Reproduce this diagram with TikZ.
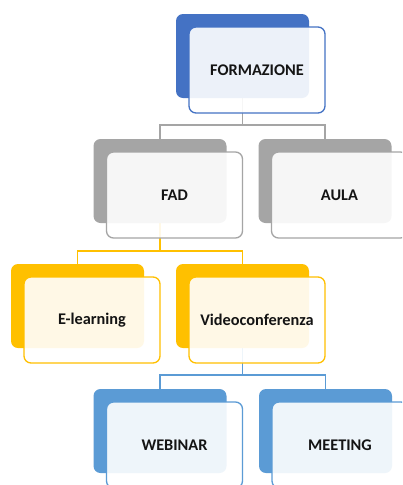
\documentclass[tikz,border=0pt]{standalone}
\usepackage{fontspec}
\setmainfont{Carlito}
\definecolor{cblue}{HTML}{4472C4}
\definecolor{cgray}{HTML}{A5A5A5}
\definecolor{cyel}{HTML}{FFC000}
\definecolor{clblue}{HTML}{5B9BD5}
\begin{document}
\begin{tikzpicture}[x=1pt,y=-1pt,
  backbox/.style={rectangle, rounded corners=7pt, minimum width=133pt, minimum height=84pt, inner sep=0pt, draw=none},
  frontbox/.style={rectangle, rounded corners=7pt, minimum width=136pt, minimum height=86pt, inner sep=0pt, line width=1.3pt, fill=white, fill opacity=0.9, text opacity=1, font=\fontsize{16.3}{19}\selectfont\bfseries, text=black!92},
  link/.style={line width=1.3pt}]
\useasboundingbox (0,0) rectangle (402,485);
\clip (0,0) rectangle (402,485);
\fill[white] (0,0) rectangle (402,485);

% junction coordinates
\coordinate (j1) at (242.5,125);
\coordinate (j2) at (160,251);
\coordinate (j3) at (242.5,375);

% back box positions
\coordinate (pF) at (242.5,56);
\coordinate (pFAD) at (160,181);
\coordinate (pAULA) at (325,181);
\coordinate (pEL) at (77.5,306);
\coordinate (pVC) at (242.5,306);
\coordinate (pWB) at (160,431);
\coordinate (pMT) at (325.5,431);

% connectors (under the boxes)
\draw[link, cgray] (pF) -- (j1) -| (pFAD);
\draw[link, cgray] (j1) -| (pAULA);
\draw[link, cyel] (pFAD) -- (j2) -| (pEL);
\draw[link, cyel] (j2) -| (pVC);
\draw[link, clblue] (pVC) -- (j3) -| (pWB);
\draw[link, clblue] (j3) -| (pMT);

% FORMAZIONE
\node[backbox, fill=cblue] (formb) at (pF) {};
\node[frontbox, draw=cblue] (form) at ([shift={(14.5,14)}]pF) {FORMAZIONE};
% FAD
\node[backbox, fill=cgray] (fadb) at (pFAD) {};
\node[frontbox, draw=cgray] (fad) at ([shift={(14.5,14)}]pFAD) {FAD};
% AULA
\node[backbox, fill=cgray] (aulab) at (pAULA) {};
\node[frontbox, draw=cgray] (aula) at ([shift={(14.5,14)}]pAULA) {AULA};
% E-learning
\node[backbox, fill=cyel] (elb) at (pEL) {};
\node[frontbox, draw=cyel] (el) at ([shift={(14.5,14)}]pEL) {E-learning};
% Videoconferenza
\node[backbox, fill=cyel] (vcb) at (pVC) {};
\node[frontbox, draw=cyel] (vc) at ([shift={(14.5,14)}]pVC) {Videoconferenza};
% WEBINAR
\node[backbox, fill=clblue] (wbb) at (pWB) {};
\node[frontbox, draw=clblue] (wb) at ([shift={(14.5,14)}]pWB) {WEBINAR};
% MEETING
\node[backbox, fill=clblue] (mtb) at (pMT) {};
\node[frontbox, draw=clblue] (mt) at ([shift={(14.5,14)}]pMT) {MEETING};
\end{tikzpicture}
\end{document}
